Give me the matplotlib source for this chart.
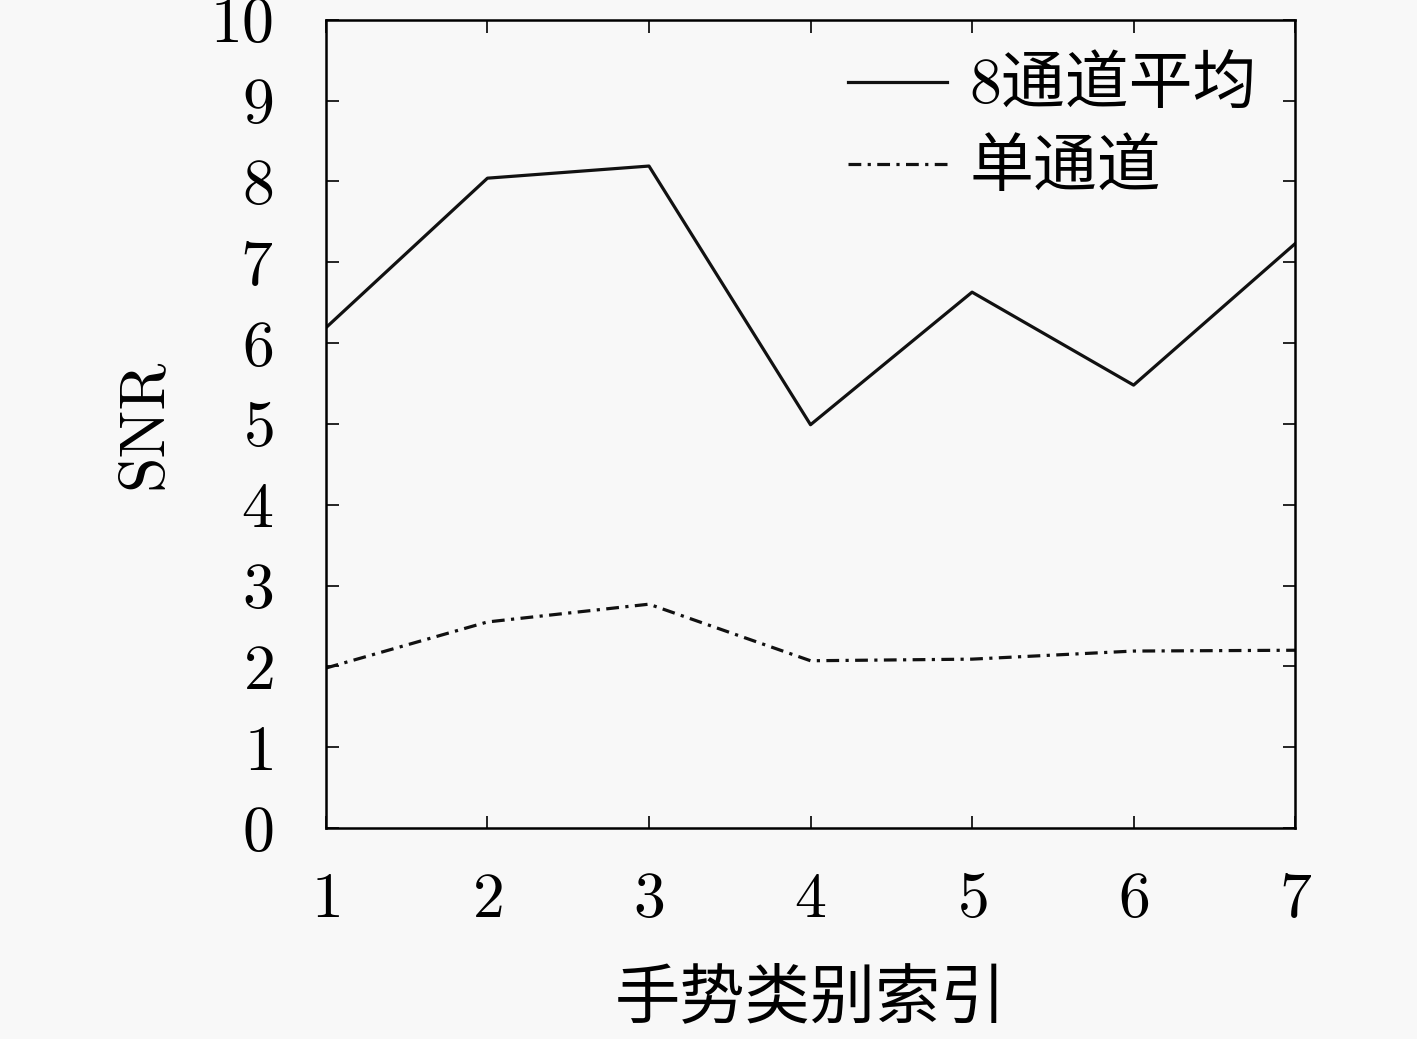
import matplotlib
matplotlib.use("Agg")
import matplotlib.pyplot as plt

gesture_idx = [1, 2, 3, 4, 5, 6, 7]
snr_avg8 = [6.19, 8.04, 8.19, 4.99, 6.63, 5.48, 7.23]
snr_single = [1.98, 2.55, 2.77, 2.07, 2.09, 2.19, 2.20]

plt.rcParams['font.family'] = ['cmr10', 'Noto Sans CJK SC']
plt.rcParams['axes.formatter.use_mathtext'] = True

fig = plt.figure(figsize=(14.17, 10.39), dpi=100, facecolor='#f8f8f8')
ax = fig.add_axes([0.230, 0.203, 0.684, 0.778])
ax.set_facecolor('#f8f8f8')

ax.plot(gesture_idx, snr_avg8, color='#111111', lw=2.3, label='8通道平均')
ax.plot(gesture_idx, snr_single, color='#111111', lw=2.3,
        dashes=(4, 2, 1, 2), label='单通道')

ax.set_xlim(1, 7)
ax.set_ylim(0, 10)
ax.set_xticks(gesture_idx)
ax.set_yticks(range(0, 11))
ax.tick_params(direction='in', top=True, right=True, labelsize=46,
               length=9, width=1.2)
ax.tick_params(axis='y', pad=38)
ax.tick_params(axis='x', pad=32)
for s in ax.spines.values():
    s.set_linewidth(1.8)

ax.set_xlabel('手势类别索引', fontsize=47, labelpad=28)
ax.set_ylabel('SNR', fontsize=46, labelpad=26)

ax.legend(loc='upper right', frameon=False, fontsize=46, handlelength=1.55,
          handletextpad=0.35, labelspacing=0.36, borderaxespad=0.3,
          borderpad=0.3)

fig.savefig('out.png', dpi=100, facecolor=fig.get_facecolor())
